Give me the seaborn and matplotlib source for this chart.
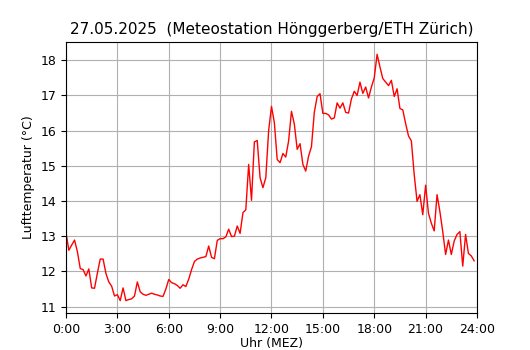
import matplotlib
matplotlib.use('Agg')
import matplotlib.pyplot as plt
import seaborn as sns
import pandas as pd

# 10-minute readings, 27.05.2025, 00:00 .. 23:50
times = pd.date_range('2025-05-27 00:00', periods=144, freq='10min')
temps = [
    13.10, 12.60, 12.75, 12.89, 12.56, 12.08, 12.05, 11.87, 12.07, 11.53,
    11.52, 11.95, 12.35, 12.35, 11.94, 11.70, 11.58, 11.30, 11.34, 11.17,
    11.53, 11.17, 11.20, 11.22, 11.30, 11.70, 11.42, 11.35, 11.32, 11.35,
    11.38, 11.35, 11.33, 11.30, 11.29, 11.50, 11.77, 11.68, 11.65, 11.60,
    11.52, 11.62, 11.57, 11.78, 12.05, 12.28, 12.35, 12.38, 12.40, 12.42,
    12.72, 12.40, 12.36, 12.88, 12.93, 12.93, 12.98, 13.20, 12.99, 13.00,
    13.29, 13.08, 13.67, 13.75, 15.04, 14.02, 15.68, 15.72, 14.66, 14.38,
    14.66, 16.00, 16.69, 16.23, 15.18, 15.09, 15.35, 15.25, 15.71, 16.55,
    16.19, 15.47, 15.63, 15.04, 14.85, 15.28, 15.54, 16.52, 16.97, 17.05,
    16.49, 16.49, 16.45, 16.33, 16.36, 16.79, 16.64, 16.79, 16.52, 16.50,
    16.90, 17.12, 17.00, 17.38, 17.06, 17.24, 16.93, 17.24, 17.50, 18.17,
    17.81, 17.48, 17.38, 17.28, 17.43, 16.97, 17.19, 16.63, 16.59, 16.20,
    15.85, 15.71, 14.75, 13.99, 14.18, 13.61, 14.45, 13.65, 13.37, 13.15,
    14.18, 13.70, 13.13, 12.48, 12.89, 12.48, 12.86, 13.05, 13.13, 12.15,
    13.05, 12.51, 12.44, 12.30,
]
hour_ticks = [0, 3, 6, 9, 12, 15, 18, 21, 24]
hour_labels = ['{}:00'.format(h) for h in hour_ticks]

df = pd.DataFrame({'time': times, 'temp': temps})
df['hour'] = (df['time'] - df['time'].dt.normalize()).dt.total_seconds() / 3600

fig, ax = plt.subplots(figsize=(5.3, 3.5), dpi=100)
fig.subplots_adjust(left=0.1245, right=0.9, top=0.88, bottom=0.106)
sns.lineplot(x='hour', y='temp', data=df, color='red', linewidth=1, ax=ax)
ax.set_xlim(0, 24)
ax.set_xticks(hour_ticks)
ax.set_xticklabels(hour_labels)
ax.set_yticks(range(11, 19))
ax.tick_params(axis='both', labelsize=9)
ax.grid(True, color='#b0b0b0', linewidth=0.8)
ax.set_title('27.05.2025  (Meteostation Hönggerberg/ETH Zürich)', fontsize=11)
ax.set_xlabel('Uhr (MEZ)', fontsize=9, labelpad=1)
ax.set_ylabel('Lufttemperatur (°C)', fontsize=9)
fig.savefig('out.png', dpi=100)
